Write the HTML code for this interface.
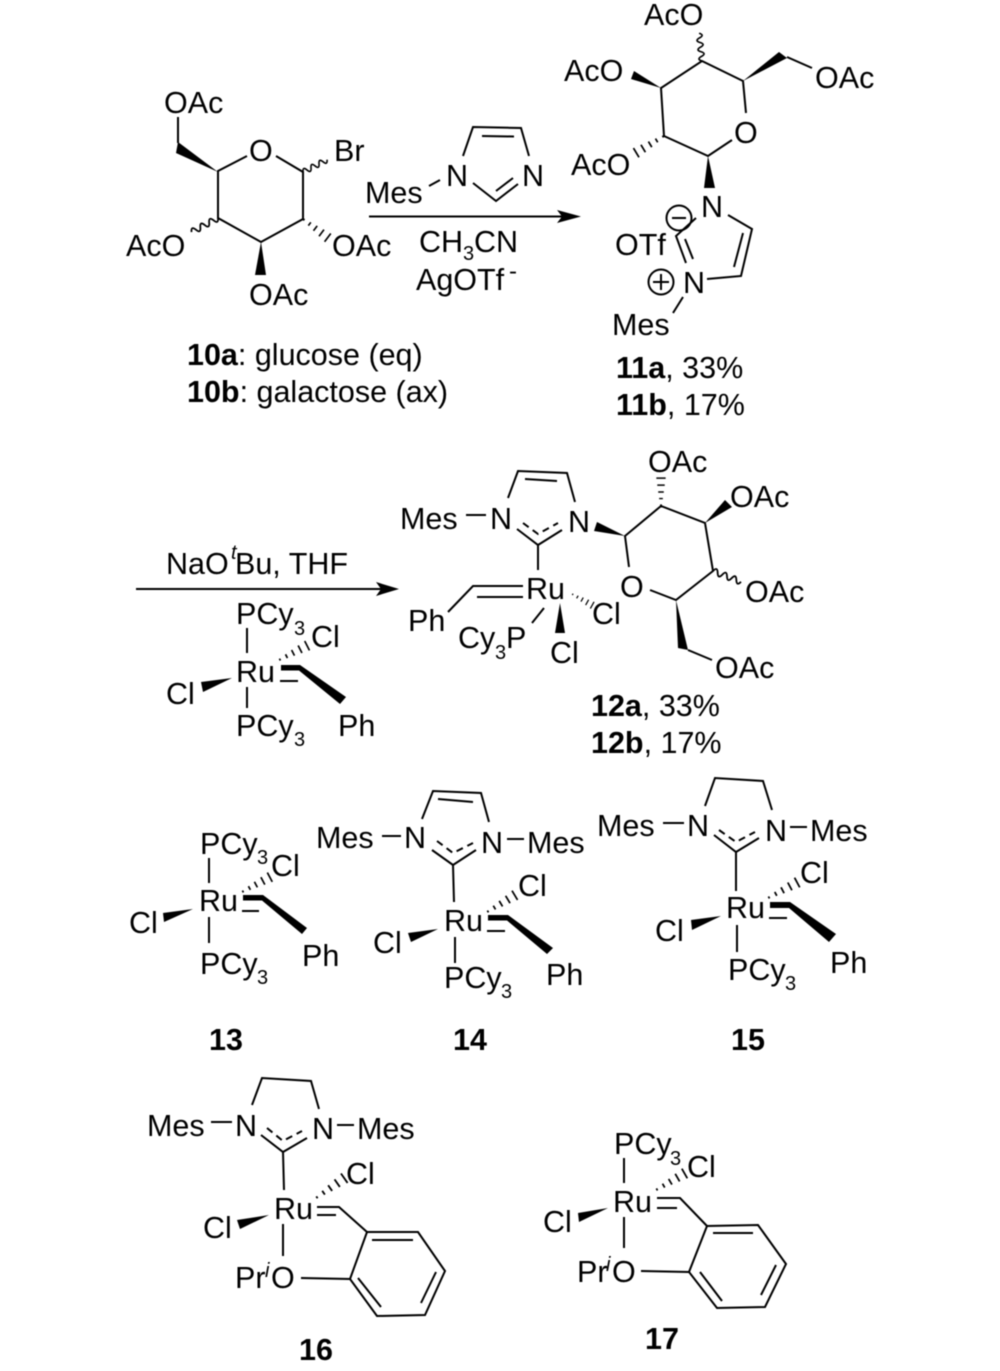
<!DOCTYPE html>
<html><head><meta charset="utf-8"><title>Ru carbene synthesis scheme</title>
<style>
html,body{margin:0;padding:0;background:#fff}
svg{display:block;filter:blur(.4px)}
text{font-family:"Liberation Sans",sans-serif;font-size:30.5px;fill:#000}
.s{font-size:20px}
.b{font-weight:bold}
.i{font-style:italic}
.l{fill:none;stroke:#000;stroke-width:2;stroke-linejoin:miter}
.f{fill:#000;stroke:none}
</style></head><body>
<svg width="1000" height="1371" viewBox="0 0 1000 1371" xmlns="http://www.w3.org/2000/svg">
<defs>
<g id="h" stroke="#000" stroke-width="1.6" fill="none">
<path d="M1 -1V1M8 -2V2M15 -3V3M22.5 -4V4M30 -5V5"/>
</g>
<path id="w" d="M0 0q2.5 -6 5 0t5 0t5 0t5 0t5 0t5 0" fill="none" stroke="#000" stroke-width="1.8"/>
</defs>

<!-- 10 -->
<g>
<path class="l" d="M178 117V143M247 156L218 171V218L261 242L303 219V172L276 156"/>
<polygon class="f" points="218,172 178,142 176,153"/>
<polygon class="f" points="261,242 255,275 266,275"/>
<use href="#w" transform="translate(303,172) rotate(-27) scale(.9)"/>
<use href="#w" transform="translate(218,218) rotate(152)"/>
<use href="#h" transform="translate(303,219) rotate(37) scale(1.03)"/>
<text x="164" y="113">OAc</text><text x="249" y="161">O</text><text x="334" y="161">Br</text>
<text x="126" y="256">AcO</text><text x="332" y="256">OAc</text><text x="249" y="305">OAc</text>
<text x="187" y="365"><tspan class="b">10a</tspan>: glucose (eq)</text>
<text x="187" y="402"><tspan class="b">10b</tspan>: galactose (ax)</text>
</g>

<!-- reagent 1 -->
<g>
<text x="365" y="203">Mes</text><text x="446" y="186">N</text><text x="522" y="186">N</text>
<path class="l" d="M429 186L440 180M463 156L473 127L521 128L529 156M482 136L514 136.5M473 183L496 201L518 184M496 191L513 178"/>
<path class="l" d="M369 216.5H564"/>
<polygon class="f" points="581,216.5 557,210 562,216.5 557,223"/>
<text x="419" y="252">CH</text><text class="s" x="463" y="260">3</text><text x="474" y="252">CN</text>
<text x="416" y="290">AgOTf</text><text class="s" style="font-size:24px" x="509" y="279">-</text>
</g>

<!-- 11 -->
<g>
<text x="644" y="25">AcO</text><text x="564" y="81">AcO</text><text x="815" y="88">OAc</text>
<text x="734" y="143">O</text><text x="571" y="175">AcO</text><text x="701" y="217">N</text>
<text x="615" y="255">OTf</text><text x="683" y="293">N</text><text x="612" y="335">Mes</text>
<path class="l" d="M746 113L743 81L702 61L661 88L664 136L708 156L732 140M787 57L812 68"/>
<polygon class="f" points="661,88 634,71 631,79"/>
<polygon class="f" points="743,81 779,52 787,58"/>
<polygon class="f" points="708,156 704,188 715,188"/>
<use href="#w" transform="translate(702,61) rotate(-96) scale(.93)"/>
<use href="#h" transform="translate(664,136) rotate(149) scale(1.08)"/>
<path class="l" d="M728 215L752 229L741 276L707 279M743 233L734 267M696 218L676 236L686 263M685 239L693 259M683 297L673 313"/>
<circle cx="679" cy="218" r="12.5" fill="none" stroke="#000" stroke-width="2"/><path class="l" d="M672 218H686"/>
<circle cx="661" cy="282" r="12.5" fill="none" stroke="#000" stroke-width="2"/><path class="l" d="M653 282H669M661 274V290"/>
<text x="616" y="378"><tspan class="b">11a</tspan>, 33%</text>
<text x="616" y="415"><tspan class="b">11b</tspan>, 17%</text>
</g>

<!-- reagent 2 -->
<g>
<text x="166" y="574">NaO</text><text class="s i" x="231" y="559">t</text><text x="235" y="574">Bu, THF</text>
<path class="l" d="M136 589H382"/>
<polygon class="f" points="399,589 376,582 381,589 376,596"/>
<text x="236" y="624">PCy</text><text class="s" x="294" y="635">3</text><text x="311" y="647">Cl</text>
<text x="236" y="682">Ru</text><text x="166" y="704">Cl</text>
<text x="236" y="736">PCy</text><text class="s" x="294" y="746">3</text><text x="338" y="736">Ph</text>
<path class="l" d="M247 628V653M247 687V708M280 681H298"/>
<polygon class="f" points="232,678 201,682 203,692"/>
<polygon class="f" points="281,665 300,665 346,697 340,704 299,670.5 281,670.5"/>
<use href="#h" transform="translate(279,660) rotate(-27) scale(1.05)"/>
</g>

<!-- 12 -->
<g>
<text x="400" y="529">Mes</text><text x="490" y="529">N</text><text x="568" y="532">N</text>
<path class="l" d="M466 515H486M508 498L518 471L567 473L575 502M525 479L557 481M517 529L538 545L562 530M538 545V570"/>
<path class="l" stroke-dasharray="7 5" d="M523 523L538 534L558 523"/>
<text x="526" y="599">Ru</text><text x="408" y="631">Ph</text>
<path class="l" d="M477 597H523M448 612L473 586H523M544 608L532 623"/>
<text x="458" y="648">Cy</text><text class="s" x="495" y="659">3</text><text x="506" y="648">P</text>
<polygon class="f" points="560,603 555,633 565,633"/>
<text x="550" y="663">Cl</text><text x="592" y="624">Cl</text>
<use href="#h" transform="translate(572,594) rotate(29) scale(.77)"/>
<polygon class="f" points="625,536 597,522 594,531"/>
<path class="l" d="M629 567L625 536L661 506L705 523L713 571L676 600L650 590M688 650L712 660"/>
<text x="620" y="597">O</text><text x="648" y="472">OAc</text><text x="730" y="507">OAc</text><text x="745" y="602">OAc</text><text x="715" y="678">OAc</text>
<use href="#h" transform="translate(661,506) rotate(-90) scale(.93)"/>
<polygon class="f" points="705,523 732,507 725,500"/>
<use href="#w" transform="translate(713,571) rotate(21)"/>
<polygon class="f" points="676,600 678,648 688,650"/>
<text x="591" y="716"><tspan class="b">12a</tspan>, 33%</text>
<text x="591" y="753"><tspan class="b">12b</tspan>, 17%</text>
</g>

<!-- 13 -->
<g>
<text x="200" y="854">PCy</text><text class="s" x="257" y="864">3</text><text x="271" y="876">Cl</text>
<text x="199" y="911">Ru</text><text x="129" y="933">Cl</text>
<text x="200" y="974">PCy</text><text class="s" x="257" y="984">3</text><text x="302" y="966">Ph</text>
<path class="l" d="M209 858V883M209 917V943M242 911H259"/>
<polygon class="f" points="193,909 163,913 164,922"/>
<polygon class="f" points="243,895 263,895 307,928 302,934 262,900.5 243,900.5"/>
<use href="#h" transform="translate(242,892) rotate(-28) scale(1.05)"/>
<text class="b" x="209" y="1050">13</text>
</g>

<!-- 14 -->
<g>
<text x="316" y="848">Mes</text><text x="404" y="848">N</text><text x="481" y="853">N</text><text x="527" y="853">Mes</text>
<path class="l" d="M382 836H401M507 839H524M422 819L433 791L481 793L489 822M438 799L473 802M432 850L453 865L476 850M453 865L454 902"/>
<path class="l" stroke-dasharray="7 5" d="M437 841L453 853L473 843"/>
<text x="444" y="931">Ru</text><text x="518" y="896">Cl</text><text x="373" y="953">Cl</text>
<text x="444" y="988">PCy</text><text class="s" x="501" y="998">3</text><text x="546" y="985">Ph</text>
<path class="l" d="M455 937V963M487 931H505"/>
<polygon class="f" points="438,929 408,933 411,942"/>
<polygon class="f" points="488,915 508,915 553,948 547,954 507,920.5 488,920.5"/>
<use href="#h" transform="translate(487,912) rotate(-31) scale(1.08)"/>
<text class="b" x="453" y="1050">14</text>
</g>

<!-- 15 -->
<g>
<text x="597" y="836">Mes</text><text x="687" y="836">N</text><text x="765" y="841">N</text><text x="810" y="841">Mes</text>
<path class="l" d="M663 823H684M790 827H807M705 806L715 778L763 781L772 810M714 835L736 852L759 838M736 852V891"/>
<path class="l" stroke-dasharray="7 5" d="M719 830L736 842L755 832"/>
<text x="726" y="918">Ru</text><text x="800" y="883">Cl</text><text x="655" y="941">Cl</text>
<text x="728" y="980">PCy</text><text class="s" x="785" y="990">3</text><text x="830" y="973">Ph</text>
<path class="l" d="M737 925V952M769 918H787"/>
<polygon class="f" points="721,916 691,920 692,930"/>
<polygon class="f" points="770,902 790,902 836,934 829,942 789,908 770,908"/>
<use href="#h" transform="translate(768,898) rotate(-28) scale(1.1)"/>
<text class="b" x="731" y="1050">15</text>
</g>

<!-- 16 -->
<g>
<text x="147" y="1136">Mes</text><text x="235" y="1136">N</text><text x="312" y="1139">N</text><text x="357" y="1139">Mes</text>
<path class="l" d="M211 1122H232M337 1125H354M252 1105L262 1078L311 1081L319 1109M261 1135L283 1152L307 1138M283 1152L284 1190"/>
<path class="l" stroke-dasharray="7 5" d="M267 1128L283 1141L302 1131"/>
<text x="274" y="1219">Ru</text><text x="346" y="1184">Cl</text><text x="203" y="1238">Cl</text>
<polygon class="f" points="269,1215 237,1220 240,1229"/>
<use href="#h" transform="translate(316,1198) rotate(-35) scale(1.15)"/>
<path class="l" d="M317 1207H339L367 1232M317 1215H336M367 1232H418L445 1271L425 1315L377 1316L350 1279L367 1232Z"/>
<path class="l" d="M372 1240H413M436 1272L421 1303M381 1307L358 1278M301 1278L350 1279M283 1224V1256"/>
<text x="235" y="1288">Pr</text><text class="s i" x="265" y="1277">i</text><text x="271" y="1288">O</text>
<text class="b" x="299" y="1360">16</text>
</g>

<!-- 17 -->
<g>
<text x="614" y="1154">PCy</text><text class="s" x="670" y="1165">3</text><text x="687" y="1177">Cl</text>
<text x="613" y="1212">Ru</text><text x="543" y="1232">Cl</text>
<polygon class="f" points="608,1208 578,1213 579,1222"/>
<use href="#h" transform="translate(656,1190) rotate(-30) scale(1.1)"/>
<path class="l" d="M624 1158V1183M624 1217V1248M657 1198H680L707 1226M657 1208H677M707 1226L758 1225L786 1264L765 1307L717 1308L689 1272L707 1226Z"/>
<path class="l" d="M713 1233H753M776 1265L761 1295M722 1301L700 1272M641 1271L689 1272"/>
<text x="577" y="1282">Pr</text><text class="s i" x="606" y="1271">i</text><text x="612" y="1282">O</text>
<text class="b" x="645" y="1349">17</text>
</g>
</svg>
</body></html>
